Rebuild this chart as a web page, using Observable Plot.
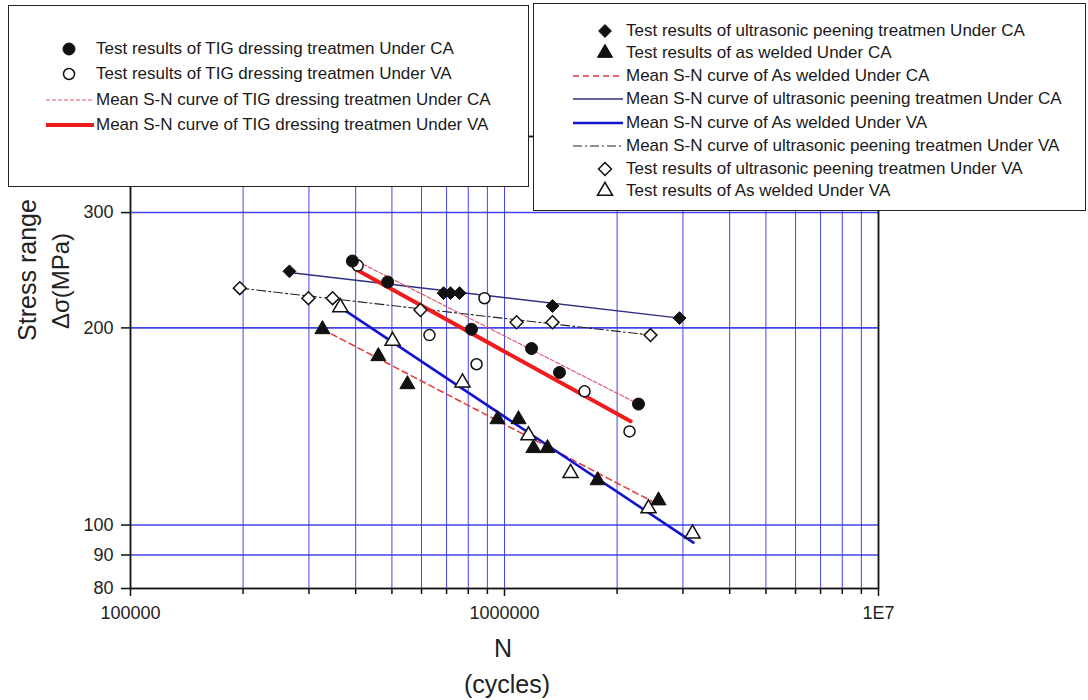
<!DOCTYPE html>
<html>
<head>
<meta charset="utf-8">
<script src="https://cdn.jsdelivr.net/npm/d3@7"></script>
<script src="https://cdn.jsdelivr.net/npm/@observablehq/plot@0.6"></script>
<style>
  body { margin: 0; background: #fff; font-family: "Liberation Sans", Arial, sans-serif; color: #222; }
  #wrap { position: relative; width: 1088px; height: 700px; overflow: hidden; }
  #wrap svg.plot { position: absolute; left: 0; top: 0; }
  .legend { position: absolute; background: #fff; border: 1.5px solid #222; box-sizing: border-box; }
  .row { position: absolute; height: 24px; white-space: nowrap; font-size: 17px; color: #1a1a1a; }
  .row svg { position: absolute; top: 0; }
  .row span { position: absolute; top: 50%; transform: translateY(-50%); }
  .title { position: absolute; white-space: nowrap; color: #222; transform: translate(-50%, -50%); }
</style>
</head>
<body>
<div id="wrap"></div>
<script>
// ---- Fatigue test results: cycles to failure N, stress range Δσ (MPa) ----
const tigCA_N = [392000, 487000, 816000, 1181000, 1403000, 2282000];
const tigCA_S = [253, 235, 199, 186, 171, 153];
const tigVA_N = [405000, 630000, 842000, 884000, 1637000, 2159000];
const tigVA_S = [249, 195, 176, 222, 160, 139];
const upCA_N = [266000, 687000, 717000, 758000, 1344000, 2937000];
const upCA_S = [244, 226, 226, 226, 216, 207];
const upVA_N = [196000, 299000, 347000, 596000, 1077000, 1344000, 2457000];
const upVA_S = [230, 222, 222, 213, 204, 204, 195];
const awCA_N = [326000, 460000, 550000, 958000, 1090000, 1195000, 1303000, 1774000, 2581000];
const awCA_S = [199, 181, 164, 145, 145, 131, 131, 117, 109];
const awVA_N = [364000, 502000, 772000, 1159000, 1502000, 2427000, 3182000];
const awVA_S = [215, 191, 165, 137, 120, 106, 97];

// ---- Mean S-N curves (straight on log-log axes, end points) ----
const curveTigCA_N = [392000, 2282000];
const curveTigCA_S = [255, 153];
const curveTigVA_N = [399000, 2173000];
const curveTigVA_S = [246, 144];
const curveUpCA_N = [266000, 2937000];
const curveUpCA_S = [243, 207];
const curveUpVA_N = [196000, 2457000];
const curveUpVA_S = [230, 195];
const curveAwCA_N = [326000, 2533000];
const curveAwCA_S = [199, 108];
const curveAwVA_N = [364000, 3200000];
const curveAwVA_S = [215, 94];

// ---- Axis ticks ----
const majorN = [1e5, 1e6, 1e7];
const majorLabels = ["100000", "1000000", "1E7"];
const minorN = [1e5, 1e6].flatMap(d => d3.range(2, 10).map(k => k * d));
const gridN = [...minorN, 1e6];
const tickS = [80, 90, 100, 200, 300];
const gridS = [90, 100, 200, 300];

// ---- Legend labels ----
const leftLegendLabels = [
  "Test results of TIG dressing treatmen Under CA",
  "Test results of TIG dressing treatmen Under VA",
  "Mean S-N curve of TIG dressing treatmen Under CA",
  "Mean S-N curve of TIG dressing treatmen Under VA"
];
const leftLegendKeys = ["dot:tigCA", "dot:tigVA", "line:tigCA", "line:tigVA"];
const rightLegendLabels = [
  "Test results of ultrasonic peening treatmen Under CA",
  "Test results of as welded Under CA",
  "Mean S-N curve of As welded Under CA",
  "Mean S-N curve of ultrasonic peening treatmen Under CA",
  "Mean S-N curve of As welded Under VA",
  "Mean S-N curve of ultrasonic peening treatmen Under VA",
  "Test results of ultrasonic peening treatmen Under VA",
  "Test results of As welded Under VA"
];
const rightLegendKeys = ["dot:upCA", "dot:awCA", "line:awCA", "line:upCA", "line:awVA", "line:upVA", "dot:upVA", "dot:awVA"];

// ---- Styles ----
const dotStyle = {
  tigCA: {symbol: "circle", r: 6, fill: "#111", stroke: "#111", strokeWidth: 1},
  tigVA: {symbol: "circle", r: 5.5, fill: "#fff", stroke: "#111", strokeWidth: 1.5},
  upCA: {symbol: "diamond2", r: 5.8, fill: "#111", stroke: "#111", strokeWidth: 1},
  upVA: {symbol: "diamond2", r: 5.8, fill: "#fff", stroke: "#111", strokeWidth: 1.5},
  awCA: {symbol: "triangle", r: 5.6, fill: "#111", stroke: "#111", strokeWidth: 1},
  awVA: {symbol: "triangle", r: 5.6, fill: "#fff", stroke: "#111", strokeWidth: 1.5}
};
const lineStyle = {
  tigCA: {stroke: "#e0506a", strokeWidth: 1.1, strokeDasharray: "4,2"},
  tigVA: {stroke: "#ee1c1c", strokeWidth: 4},
  upCA: {stroke: "#2e2e80", strokeWidth: 1.4},
  upVA: {stroke: "#222", strokeWidth: 1.1, strokeDasharray: "9,3,2,3"},
  awCA: {stroke: "#e23a3a", strokeWidth: 1.5, strokeDasharray: "6,4"},
  awVA: {stroke: "#1414d0", strokeWidth: 2.6}
};

const series = {
  tigCA: [tigCA_N, tigCA_S], tigVA: [tigVA_N, tigVA_S],
  upCA: [upCA_N, upCA_S], upVA: [upVA_N, upVA_S],
  awCA: [awCA_N, awCA_S], awVA: [awVA_N, awVA_S]
};
const curves = {
  tigCA: [curveTigCA_N, curveTigCA_S], tigVA: [curveTigVA_N, curveTigVA_S],
  upCA: [curveUpCA_N, curveUpCA_S], upVA: [curveUpVA_N, curveUpVA_S],
  awCA: [curveAwCA_N, curveAwCA_S], awVA: [curveAwVA_N, curveAwVA_S]
};

const gridColor = "#3a3aec";
const lineOrder = ["upVA", "upCA", "awCA", "awVA", "tigCA", "tigVA"];
const dotOrder = ["upVA", "upCA", "tigVA", "tigCA", "awVA", "awCA"];

const lineMarks = lineOrder.map(k => {
  const [N, S] = curves[k];
  return Plot.line(d3.range(N.length), {x: i => N[i], y: i => S[i], ...lineStyle[k]});
});
const dotMarks = dotOrder.map(k => {
  const [N, S] = series[k];
  return Plot.dot(d3.range(N.length), {x: i => N[i], y: i => S[i], ...dotStyle[k]});
});

const chart = Plot.plot({
  width: 1088,
  height: 700,
  marginLeft: 130,
  marginRight: 210,
  marginTop: 136,
  marginBottom: 112,
  x: {type: "log", domain: [1e5, 1e7]},
  y: {type: "log", domain: [80, 392]},
  style: {fontFamily: "'Liberation Sans', Arial, sans-serif", fontSize: "18px", color: "#222", background: "#fff"},
  marks: [
    Plot.gridX({ticks: gridN, stroke: gridColor, strokeOpacity: 0.95, strokeWidth: 1}),
    Plot.gridY({ticks: gridS, stroke: gridColor, strokeOpacity: 0.95, strokeWidth: 1.6}),
    ...lineMarks,
    ...dotMarks,
    Plot.frame({stroke: "#111", strokeWidth: 1.8}),
    Plot.axisX({ticks: minorN, tickSize: 6, tickFormat: () => "", label: null, stroke: "#111", strokeWidth: 1.5}),
    Plot.axisX({ticks: majorN, tickSize: 8, tickPadding: 10, label: null, fontSize: 18,
      tickFormat: d => majorLabels[majorN.indexOf(d)], stroke: "#111", strokeWidth: 1.5}),
    Plot.axisY({ticks: tickS, tickSize: 9, tickPadding: 8, label: null, fontSize: 18,
      tickFormat: d => String(d), stroke: "#111", strokeWidth: 1.5})
  ]
});
chart.classList.add("plot");

const wrap = document.getElementById("wrap");
wrap.appendChild(chart);

// ---- Axis titles ----
function addTitle(text, cx, cy, size, rotate) {
  const el = document.createElement("div");
  el.className = "title";
  el.textContent = text;
  el.style.left = cx + "px";
  el.style.top = cy + "px";
  el.style.fontSize = size + "px";
  if (rotate) el.style.transform = "translate(-50%, -50%) rotate(-90deg)";
  wrap.appendChild(el);
}
addTitle("Stress range", 27, 270, 25, true);
addTitle("Δσ(MPa)", 61, 281, 24, true);
addTitle("N", 503, 648, 25, false);
addTitle("(cycles)", 507, 684, 25, false);

// ---- Legend boxes ----
function swatch(key, w, cx) {
  const [type, k] = key.split(":");
  const svg = d3.create("svg").attr("width", w).attr("height", 24);
  if (type === "line") {
    const s = lineStyle[k];
    svg.append("line").attr("x1", 1).attr("x2", w - 1).attr("y1", 12).attr("y2", 12)
      .attr("stroke", s.stroke).attr("stroke-width", s.strokeWidth)
      .attr("stroke-dasharray", s.strokeDasharray || null);
  } else {
    const s = dotStyle[k];
    const sym = {circle: d3.symbolCircle, diamond2: d3.symbolDiamond2, triangle: d3.symbolTriangle}[s.symbol];
    svg.append("path").attr("transform", `translate(${cx},12)`)
      .attr("d", d3.symbol(sym, Math.PI * s.r * s.r)())
      .attr("fill", s.fill).attr("stroke", s.stroke).attr("stroke-width", s.strokeWidth);
  }
  return svg.node();
}

function legendBox(box, labels, keys, rowTops, swLeft, swWidth, markCx, textLeft) {
  const div = document.createElement("div");
  div.className = "legend";
  Object.assign(div.style, {left: box[0] + "px", top: box[1] + "px", width: box[2] + "px", height: box[3] + "px"});
  labels.forEach((label, i) => {
    const row = document.createElement("div");
    row.className = "row";
    row.style.left = "0px";
    row.style.top = (rowTops[i] - box[1] - 12) + "px";
    row.style.width = (box[2] - 4) + "px";
    const sw = swatch(keys[i], swWidth, markCx);
    sw.style.left = (swLeft - box[0]) + "px";
    row.appendChild(sw);
    const t = document.createElement("span");
    t.textContent = label;
    t.style.left = (textLeft - box[0]) + "px";
    row.appendChild(t);
    div.appendChild(row);
  });
  wrap.appendChild(div);
}

legendBox([8, 5, 521, 182], leftLegendLabels, leftLegendKeys,
  [48, 73, 99, 124], 44, 50, 24, 95);
legendBox([533, 3, 553, 208], rightLegendLabels, rightLegendKeys,
  [30, 52, 75, 98, 122, 145, 168, 190], 571, 52, 33, 625);
</script>
</body>
</html>
